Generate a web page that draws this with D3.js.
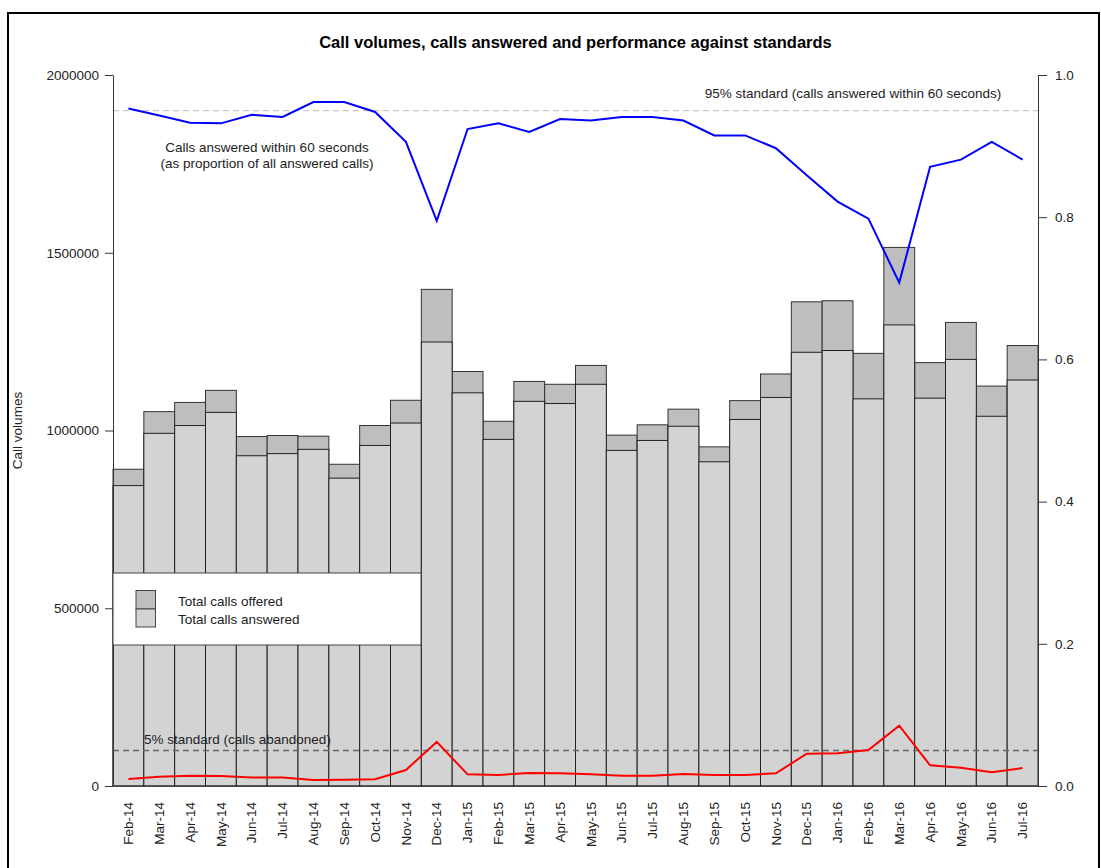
<!DOCTYPE html>
<html>
<head>
<meta charset="utf-8">
<script src="https://cdn.jsdelivr.net/npm/d3@7"></script>
<style>
  html, body { margin: 0; padding: 0; background: #fff; }
  svg { display: block; font-family: "Liberation Sans", Arial, sans-serif; }
</style>
</head>
<body>
<svg id="chart" width="1101" height="868"></svg>
<script>
const months = ["Feb-14","Mar-14","Apr-14","May-14","Jun-14","Jul-14","Aug-14","Sep-14","Oct-14","Nov-14","Dec-14",
  "Jan-15","Feb-15","Mar-15","Apr-15","May-15","Jun-15","Jul-15","Aug-15","Sep-15","Oct-15","Nov-15","Dec-15",
  "Jan-16","Feb-16","Mar-16","Apr-16","May-16","Jun-16","Jul-16"];
const offered = [891000,1053000,1079000,1113000,983000,986000,984000,905000,1014000,1085000,1397000,
  1166000,1026000,1138000,1130000,1183000,987000,1016000,1060000,954000,1084000,1159000,1362000,
  1365000,1217000,1515000,1191000,1304000,1125000,1239000];
const answered = [845000,992000,1014000,1051000,929000,935000,947000,866000,958000,1021000,1249000,
  1106000,975000,1082000,1076000,1130000,944000,972000,1012000,912000,1031000,1093000,1220000,
  1225000,1089000,1297000,1091000,1200000,1040000,1142000];
const within60 = [0.953,0.943,0.933,0.932,0.944,0.941,0.962,0.962,0.948,0.906,0.795,
  0.924,0.932,0.920,0.938,0.936,0.941,0.941,0.936,0.915,0.915,0.897,0.859,
  0.822,0.798,0.708,0.871,0.881,0.906,0.881];
const abandoned = [0.010,0.013,0.0145,0.014,0.012,0.012,0.0084,0.0089,0.0094,0.0225,0.062,
  0.0164,0.0155,0.0183,0.0178,0.0164,0.0145,0.0145,0.0169,0.0155,0.0155,0.0178,0.0455,
  0.046,0.0506,0.0848,0.0291,0.0258,0.0192,0.0253];
const leftTicks = [0, 500000, 1000000, 1500000, 2000000];
const rightTicks = [0, 0.2, 0.4, 0.6, 0.8, 1.0];
const answeredStandard = 0.95;
const abandonedStandard = 0.05;

const svg = d3.select("#chart");
const L = 113, R = 1038, T = 75, B = 786;
const FS = 13.5;

// outer frame
svg.append("rect").attr("x", 8).attr("y", 13).attr("width", 1091).attr("height", 870)
  .attr("fill", "none").attr("stroke", "#000").attr("stroke-width", 2);

const x = d3.scaleBand().domain(months).range([L, R]).padding(0);
const yL = d3.scaleLinear().domain([0, 2000000]).range([B, T]);
const yR = d3.scaleLinear().domain([0, 1]).range([B, T]);

// title
svg.append("text").attr("x", (L + R) / 2).attr("y", 48).attr("text-anchor", "middle")
  .attr("font-size", 16.5).attr("font-weight", "bold").attr("fill", "#000")
  .text("Call volumes, calls answered and performance against standards");

// bars
const bars = svg.append("g");
bars.selectAll("rect.off").data(months).join("rect")
  .attr("x", d => x(d)).attr("width", x.bandwidth())
  .attr("y", (d, i) => yL(offered[i])).attr("height", (d, i) => B - yL(offered[i]))
  .attr("fill", "#bebebe").attr("stroke", "#333").attr("stroke-width", 1);
bars.selectAll("rect.ans").data(months).join("rect")
  .attr("x", d => x(d)).attr("width", x.bandwidth())
  .attr("y", (d, i) => yL(answered[i])).attr("height", (d, i) => B - yL(answered[i]))
  .attr("fill", "#d3d3d3").attr("stroke", "#222").attr("stroke-width", 1);

// standard lines
svg.append("line").attr("x1", L).attr("x2", R).attr("y1", yR(answeredStandard)).attr("y2", yR(answeredStandard))
  .attr("stroke", "#c8c8c8").attr("stroke-width", 1.2).attr("stroke-dasharray", "6,4");
svg.append("line").attr("x1", L).attr("x2", R).attr("y1", yR(abandonedStandard)).attr("y2", yR(abandonedStandard))
  .attr("stroke", "#666").attr("stroke-width", 1.6).attr("stroke-dasharray", "6,4");

const cx = d => x(d) + x.bandwidth() / 2;
const lineW = d3.line().x((d, i) => cx(months[i])).y(d => yR(d));
svg.append("path").datum(within60).attr("d", lineW).attr("fill", "none")
  .attr("stroke", "#0000ff").attr("stroke-width", 2);
svg.append("path").datum(abandoned).attr("d", lineW).attr("fill", "none")
  .attr("stroke", "#ff0000").attr("stroke-width", 2);

// axes
const axL = svg.append("g").attr("transform", `translate(${L},0)`)
  .call(d3.axisLeft(yL).tickValues(leftTicks).tickFormat(d => String(d)).tickSize(8).tickSizeOuter(0).tickPadding(6));
const axR = svg.append("g").attr("transform", `translate(${R},0)`)
  .call(d3.axisRight(yR).tickValues(rightTicks).tickFormat(d3.format(".1f")).tickSize(9).tickSizeOuter(0).tickPadding(8));
[axL, axR].forEach(a => {
  a.selectAll("path.domain").attr("stroke", "#333");
  a.selectAll("line").attr("stroke", "#333");
  a.selectAll("text").attr("font-size", FS).attr("fill", "#222").attr("font-family", "Liberation Sans, Arial, sans-serif");
});
// bottom line
svg.append("line").attr("x1", L).attr("x2", R).attr("y1", B).attr("y2", B).attr("stroke", "#333");

// x labels
svg.append("g").selectAll("text").data(months).join("text")
  .attr("transform", d => `translate(${cx(d)},802) rotate(-90)`)
  .attr("text-anchor", "end").attr("dy", "0.35em")
  .attr("font-size", FS).attr("fill", "#222").text(d => d);

// y label
svg.append("text").attr("transform", `translate(22,${(T + B) / 2}) rotate(-90)`)
  .attr("text-anchor", "middle").attr("font-size", FS).attr("fill", "#222").text("Call volumes");

// annotations
svg.append("text").attr("x", 853).attr("y", 98).attr("text-anchor", "middle")
  .attr("font-size", FS).attr("fill", "#222").text("95% standard (calls answered within 60 seconds)");
svg.append("text").attr("x", 267).attr("y", 152).attr("text-anchor", "middle")
  .attr("font-size", FS).attr("fill", "#222").text("Calls answered within 60 seconds");
svg.append("text").attr("x", 267).attr("y", 168).attr("text-anchor", "middle")
  .attr("font-size", FS).attr("fill", "#222").text("(as proportion of all answered calls)");
svg.append("text").attr("x", 144).attr("y", 744)
  .attr("font-size", FS).attr("fill", "#222").text("5% standard (calls abandoned)");

// legend
const lg = svg.append("g");
lg.append("rect").attr("x", 113).attr("y", 573).attr("width", 308).attr("height", 72)
  .attr("fill", "#fff").attr("stroke", "#444").attr("stroke-width", 1);
lg.append("rect").attr("x", 136).attr("y", 590.5).attr("width", 19.5).attr("height", 18.5)
  .attr("fill", "#bebebe").attr("stroke", "#444");
lg.append("rect").attr("x", 136).attr("y", 609).attr("width", 19.5).attr("height", 18)
  .attr("fill", "#d3d3d3").attr("stroke", "#444");
lg.append("text").attr("x", 178).attr("y", 606).attr("font-size", FS).attr("fill", "#222").text("Total calls offered");
lg.append("text").attr("x", 178).attr("y", 624).attr("font-size", FS).attr("fill", "#222").text("Total calls answered");
</script>
</body>
</html>
